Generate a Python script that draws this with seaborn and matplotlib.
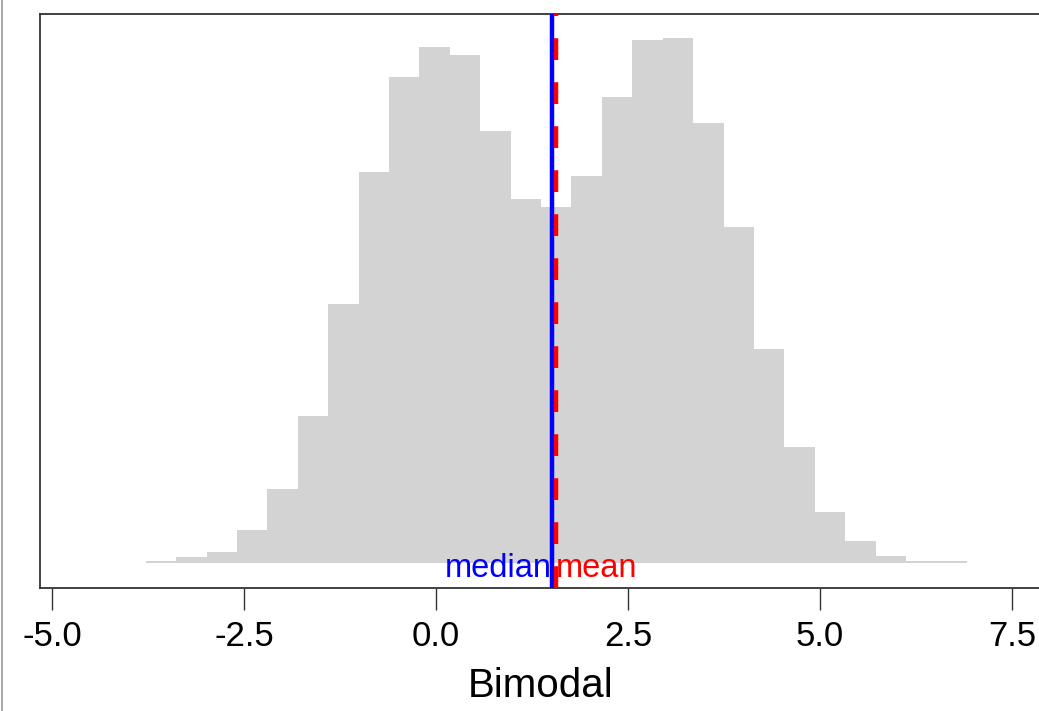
import numpy as np
import pandas as pd
import matplotlib
matplotlib.use("Agg")
import matplotlib.pyplot as plt
from matplotlib.lines import Line2D
import seaborn as sns

# ---- data ----
bin_lo = -3.78
bin_hi = 6.91
counts = [2, 8, 16, 49, 110, 220, 388, 586, 729, 773, 762, 647, 545, 533,
          580, 699, 784, 787, 660, 503, 321, 173, 76, 33, 10, 3, 3]
median_val = 1.507
mean_val = 1.56
xticks = [-5.0, -2.5, 0.0, 2.5, 5.0, 7.5]
xtick_labels = ["-5.0", "-2.5", "0.0", "2.5", "5.0", "7.5"]
xlabel = "Bimodal"

nbins = len(counts)
width = (bin_hi - bin_lo) / nbins
centers = [bin_lo + width * (i + 0.5) for i in range(nbins)]
df = pd.DataFrame({"x": centers, "n": counts})

sns.set_style("white")
plt.rcParams["font.family"] = ["Liberation Sans", "DejaVu Sans"]
plt.rcParams["axes.unicode_minus"] = False

fig = plt.figure(figsize=(10.39, 7.11), dpi=100)
ax = fig.add_axes([0.0385, 0.1723, 0.9645, 0.808])

sns.histplot(data=df, x="x", weights="n", bins=nbins, binrange=(bin_lo, bin_hi),
             color="#d3d3d3", alpha=1, edgecolor="none", linewidth=0, ax=ax)

ax.axvline(median_val, color="#0000ff", lw=3.2, zorder=3)
ax.axvline(mean_val, color="#ff0000", lw=3.2, linestyle=(0, (4.9, 5.0)), zorder=4)

ax.text(median_val, -21.9, "median", color="#0000ff", fontsize=23.5,
        ha="right", va="baseline", zorder=5)
ax.text(mean_val, -21.9, "mean", color="#ff0000", fontsize=23.5,
        ha="left", va="baseline", zorder=5)

ax.set_xlim(-5.156, 7.89)
ax.set_ylim(-38.7, 823)
ax.set_xticks(xticks)
ax.set_xticklabels(xtick_labels)
ax.set_yticks([])
ax.set_ylabel("")
ax.set_xlabel(xlabel, fontsize=29, labelpad=10, color="black")
ax.tick_params(axis="x", bottom=True, length=16, width=1.0, color="#333333",
               labelsize=25, pad=7, labelcolor="black")
for s in ax.spines.values():
    s.set_visible(True)
    s.set_color("#333333")
    s.set_linewidth(1.3)

fig.add_artist(Line2D([1.5 / 1039, 1.5 / 1039], [0, 1], transform=fig.transFigure,
                      color="#999999", lw=1.2))

fig.savefig("out.png", dpi=100)
